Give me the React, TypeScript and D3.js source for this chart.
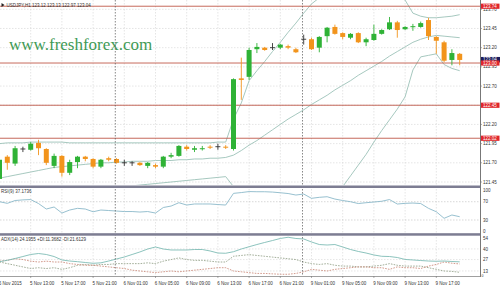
import React from "react";
import * as d3 from "d3";

const W = 500;
const H = 287;

// Hourly USDJPY candles, 5 Nov 09:00 .. 9 Nov 20:00
const open = [121.49,121.78,121.69,121.88,121.87,121.96,121.88,121.66,121.79,121.57,121.71,121.78,121.75,121.65,121.76,121.75,121.70,121.70,121.70,121.66,121.67,121.65,121.78,121.79,121.91,121.87,121.88,121.91,121.91,121.91,121.88,122.80,122.82,123.18,123.20,123.20,123.20,123.22,123.18,123.31,123.31,123.20,123.35,123.47,123.39,123.33,123.39,123.27,123.30,123.38,123.44,123.53,123.44,123.47,123.47,123.56,123.34,123.27,123.04,123.12];
const high = [121.76,121.80,121.92,121.91,121.97,122.00,121.89,121.82,121.80,121.74,121.79,121.79,121.76,121.75,121.78,121.76,121.74,121.72,121.71,121.71,121.69,121.79,121.83,121.93,121.93,121.92,121.92,121.93,121.95,121.93,122.80,123.07,123.20,123.26,123.21,123.26,123.25,123.24,123.20,123.37,123.33,123.35,123.47,123.50,123.40,123.39,123.40,123.33,123.50,123.44,123.60,123.55,123.48,123.51,123.54,123.59,123.35,123.29,123.18,123.13];
const low = [121.46,121.61,121.66,121.84,121.86,121.80,121.67,121.63,121.52,121.54,121.63,121.72,121.63,121.63,121.72,121.69,121.66,121.66,121.66,121.63,121.63,121.63,121.76,121.78,121.86,121.84,121.86,121.88,121.87,121.88,121.86,122.52,122.78,123.13,123.16,123.17,123.18,123.18,123.13,123.24,123.17,123.14,123.27,123.37,123.31,123.31,123.26,123.22,123.29,123.37,123.43,123.33,123.43,123.42,123.46,123.30,123.12,123.01,122.97,122.97];
const close = [121.74,121.70,121.89,121.88,121.95,121.89,121.70,121.79,121.57,121.71,121.78,121.75,121.65,121.74,121.74,121.70,121.70,121.70,121.67,121.70,121.65,121.78,121.80,121.92,121.88,121.89,121.89,121.90,121.91,121.90,122.79,122.78,123.17,123.21,123.17,123.20,123.24,123.20,123.14,123.31,123.18,123.34,123.46,123.38,123.34,123.38,123.27,123.31,123.38,123.43,123.53,123.43,123.47,123.48,123.52,123.35,123.29,123.03,123.13,123.04];

// Bollinger Bands (20, 2)
const bbUpper = [121.95,121.96,121.96,121.96,121.97,121.97,121.97,121.97,121.97,121.96,121.96,121.96,121.96,121.96,121.96,121.96,121.96,121.96,121.96,121.96,121.96,121.96,121.96,121.96,121.96,121.96,121.96,121.96,121.97,121.97,122.27,122.48,122.77,122.90,123.02,123.15,123.27,123.40,123.52,123.65,123.77,123.85,123.92,123.97,124.00,124.02,124.02,124.01,123.99,123.96,123.93,123.88,123.82,123.65,123.61,123.59,123.59,123.60,123.61,123.63];
const bbMiddle = [121.50,121.52,121.54,121.56,121.58,121.60,121.62,121.64,121.65,121.66,121.67,121.68,121.69,121.70,121.70,121.71,121.71,121.72,121.72,121.72,121.73,121.73,121.73,121.74,121.74,121.75,121.75,121.76,121.76,121.77,121.80,121.86,121.93,121.99,122.06,122.13,122.20,122.27,122.33,122.39,122.46,122.52,122.58,122.65,122.71,122.77,122.84,122.90,122.96,123.02,123.09,123.15,123.21,123.27,123.31,123.34,123.36,123.35,123.34,123.33];
const bbLower = [121.05,121.08,121.12,121.16,121.19,121.23,121.27,121.31,121.33,121.35,121.37,121.38,121.39,121.40,121.40,121.40,121.40,121.40,121.41,121.42,121.43,121.44,121.45,121.46,121.47,121.48,121.49,121.50,121.51,121.52,121.39,121.28,121.09,121.00,120.95,120.92,120.90,120.90,120.92,120.95,121.00,121.08,121.15,121.25,121.39,121.53,121.67,121.81,121.97,122.12,122.26,122.40,122.56,122.91,123.08,123.10,123.12,122.98,122.93,122.90];

// RSI(9)
const rsi = [70,66.4,72.6,74,74.7,66,54,58.4,45.2,51.8,55.5,54,48,51.8,50.7,49.6,48.5,48.5,47.4,48.5,45.2,57.3,60.5,67.8,62.7,65,65,65,63.8,62.7,88.3,90,92.2,91.8,91.8,91.1,89.6,87.9,84.6,86.8,77.4,79.6,80.9,75.8,72.6,70,66,67.8,69.3,71,74.7,64.9,66.4,67.1,66,55.5,48,33.7,40.9,37.17];

// ADX(14) with +DI / -DI
const adx = [24.4,26.1,28.3,30.7,33.2,34.4,33.2,30.7,26.5,25.2,24.4,23.4,22.4,23.0,25.2,27.7,30.1,33.2,36.3,39.9,42.4,39.9,38.7,38.7,38.7,39.3,39.3,37.5,35.0,34.7,36.6,39.9,42.7,45.4,47.9,50.3,52.8,54.3,52.8,52.2,48.5,45.4,44.8,45.4,42.4,39.3,36.9,35.0,32.6,31.0,30.7,29.5,27.1,26.5,25.8,25.2,24.9,25.2,24.6,24.2];
const plusDI = [24,22,20,18,16,17,16,17,15,17,20,21,20,21,21,22,22,22,22,23,22,25,27,29,27,26,26,25,24,24,31,32,33,32,31,30,29,28,27,24,22,21,22,20,19,19,18,18,19,20,22,20,19,19,19,17,15,13,12.5,11.37];
const minusDI = [25,26,28,27,25,24,25,24,24,22,21,20,20,19,18,17,16,14,13,12,11,12,13,12,13,14,15,16,17,17,13,12,11,10,10,9.5,9,9,10,12,15,14,13,15,16,17,18,18,17,17,15,18,17,17,16,19,21,24,22.5,21.61];

const timeTickIndex = [0,4,8,12,16,20,24,28,32,36,40,44,48,52,56];
const timeTickText = ["5 Nov 2015","5 Nov 13:00","5 Nov 17:00","5 Nov 21:00","6 Nov 01:00","6 Nov 05:00","6 Nov 09:00","6 Nov 13:00","6 Nov 17:00","6 Nov 21:00","9 Nov 01:00","9 Nov 05:00","9 Nov 09:00","9 Nov 13:00","9 Nov 17:00"];
const daySeparatorIndex = [15, 39];

const priceTicks = [123.70,123.45,123.20,122.95,122.70,122.45,122.20,121.95,121.70,121.45];
const levelPrices = [123.74,123.00,122.45,122.02];
const bidPrice = 123.04;
const rsiLevels = [70,30];
const rsiLabels = [100,70,30,0];
const adxLabels = [54,40,27,13,0];

const title = "USDJPY,H1  123.12 123.13 122.97 123.04";
const rsiTitle = "RSI(9) 37.1736";
const adxTitle = "ADX(14) 24.1955 +DI:11.3682 -DI:21.6129";

const PLOT_R = 480;
const MAIN = { top: 0, bottom: 185 };
const RSIP = { top: 188, bottom: 233 };
const ADXP = { top: 236, bottom: 276 };

const FONT = "'Liberation Sans', Arial, sans-serif";
const GREEN = "#2fb236";
const ORANGE = "#f2941c";
const BAND = "#9cc2b8";
const LEVEL = "#c0584a";
const GRID = "#d4d4d4";
const SEP = "#7d7d92";

export default function App() {
  const n = close.length;
  const x = d3.scaleLinear().domain([0, n - 1]).range([-0.5, -0.5 + (n - 1) * 7.8]);
  const y = d3.scaleLinear().domain([121.45, 123.70]).range([182, 9.3]);
  const yR = d3.scaleLinear().domain([0, 100]).range([233.7, 188]);
  const yA = d3.scaleLinear().domain([0, 54]).range([281.6, 237.5]);

  const lineMain = (arr: number[]) =>
    d3.line<number>().x((_, i) => x(i)).y((d) => y(d))(arr) || "";
  const lineR = d3.line<number>().x((_, i) => x(i)).y((d) => yR(d));
  const lineA = d3.line<number>().x((_, i) => x(i)).y((d) => yA(d));

  const bodyW = 5;
  const clampC = (v: number, lo: number, hi: number) => Math.max(lo, Math.min(hi, v));

  return (
    <svg width={W} height={H} style={{ position: "absolute", left: 0, top: 0, background: "#fff" }} fontFamily={FONT}>
      <defs>
        <clipPath id="cMain"><rect x={0} y={MAIN.top} width={PLOT_R} height={MAIN.bottom - MAIN.top} /></clipPath>
        <clipPath id="cRsi"><rect x={0} y={RSIP.top} width={PLOT_R} height={RSIP.bottom - RSIP.top} /></clipPath>
        <clipPath id="cAdx"><rect x={0} y={ADXP.top} width={PLOT_R} height={ADXP.bottom - ADXP.top} /></clipPath>
      </defs>
      <rect x={0} y={0} width={W} height={H} fill="#fff" />

      {/* grid */}
      <g stroke={GRID} strokeWidth={0.6} strokeDasharray="1.5,1.5">
        {timeTickIndex.map((ti) => (
          <line key={"vg" + ti} x1={x(ti)} x2={x(ti)} y1={0} y2={ADXP.bottom} />
        ))}
        {priceTicks.map((p) => (
          <line key={"hg" + p} x1={0} x2={PLOT_R} y1={y(p)} y2={y(p)} />
        ))}
        {rsiLevels.map((v) => (
          <line key={"rl" + v} x1={0} x2={PLOT_R} y1={yR(v)} y2={yR(v)} stroke="#bdbdbd" />
        ))}
        {[40, 27, 13].map((v) => (
          <line key={"al" + v} x1={0} x2={PLOT_R} y1={yA(v)} y2={yA(v)} />
        ))}
      </g>

      {/* watermark */}
      <text x={9} y={49.5} fontFamily="'Liberation Serif', 'Times New Roman', serif" fontSize={17} fill="#3f9a55">www.freshforex.com</text>

      {/* main panel */}
      <g clipPath="url(#cMain)">
        {[bbUpper, bbMiddle, bbLower].map((arr, k) => (
          <path key={"bb" + k} d={lineMain(arr)} fill="none" stroke={BAND} strokeWidth={0.9} />
        ))}
        {levelPrices.map((p) => (
          <line key={"lv" + p} x1={0} x2={PLOT_R} y1={y(p)} y2={y(p)} stroke={LEVEL} strokeWidth={0.9} />
        ))}
        {close.map((c, i) => {
          const o = open[i];
          const doji = Math.abs(c - o) < 0.005;
          const col = doji ? "#333" : c > o ? GREEN : ORANGE;
          const top = y(Math.max(o, c));
          const bot = y(Math.min(o, c));
          return (
            <g key={"c" + i}>
              <line x1={x(i)} x2={x(i)} y1={y(high[i])} y2={y(low[i])} stroke={col} strokeWidth={0.9} />
              {doji ? (
                <line x1={x(i) - bodyW / 2} x2={x(i) + bodyW / 2} y1={top} y2={top} stroke={col} strokeWidth={0.9} />
              ) : (
                <rect x={x(i) - bodyW / 2} y={top} width={bodyW} height={Math.max(1, bot - top)} fill={col} />
              )}
            </g>
          );
        })}
      </g>

      {/* RSI */}
      <g clipPath="url(#cRsi)">
        <path d={lineR(rsi) || ""} fill="none" stroke="#8bb9c9" strokeWidth={0.9} />
      </g>

      {/* ADX */}
      <g clipPath="url(#cAdx)">
        <path d={lineA(plusDI) || ""} fill="none" stroke="#8b9b80" strokeWidth={0.8} strokeDasharray="1.6,1.2" />
        <path d={lineA(minusDI) || ""} fill="none" stroke="#c7806f" strokeWidth={0.8} strokeDasharray="1.6,1.2" />
        <path d={lineA(adx) || ""} fill="none" stroke="#7fbcb6" strokeWidth={0.9} />
      </g>

      {/* day separators */}
      <g stroke="#555" strokeWidth={0.7} strokeDasharray="1.5,1.5">
        {daySeparatorIndex.map((di) => (
          <line key={"ds" + di} x1={x(di) - 1.2} x2={x(di) - 1.2} y1={0} y2={ADXP.bottom} />
        ))}
      </g>

      {/* panel separators */}
      <rect x={0} y={185.5} width={PLOT_R + 1} height={2.5} fill={SEP} />
      <rect x={0} y={233.2} width={PLOT_R + 1} height={2.5} fill={SEP} />
      <line x1={0} x2={PLOT_R} y1={ADXP.bottom + 0.5} y2={ADXP.bottom + 0.5} stroke="#888" strokeWidth={0.8} />
      <line x1={PLOT_R + 0.5} x2={PLOT_R + 0.5} y1={0} y2={ADXP.bottom + 1} stroke="#777" strokeWidth={1} />

      {/* price axis */}
      <g fontSize={4.5} fill="#333">
        {priceTicks.map((p) => (
          <g key={"pt" + p}>
            <line x1={PLOT_R} x2={PLOT_R + 2} y1={y(p)} y2={y(p)} stroke="#777" strokeWidth={0.6} />
            <text x={483} y={y(p) + 1.6}>{p.toFixed(2)}</text>
          </g>
        ))}
      </g>
      <rect x={481} y={y(bidPrice) - 3} width={19} height={5.5} fill="#1c1c5c" />
      <text x={483} y={y(bidPrice) + 1.4} fontSize={4.5} fill="#fff">{bidPrice.toFixed(2)}</text>
      {levelPrices.map((p) => (
        <g key={"lb" + p}>
          <rect x={481} y={y(p) - 2.6} width={18.5} height={5.2} fill="#e0262a" />
          <text x={483} y={y(p) + 1.6} fontSize={4.5} fill="#fff">{p.toFixed(2)}</text>
        </g>
      ))}

      {/* RSI / ADX axis */}
      <g fontSize={4.5} fill="#333">
        {rsiLabels.map((v) => (
          <text key={"rlb" + v} x={483} y={clampC(yR(v), RSIP.top + 2.5, RSIP.bottom - 2) + 1.6}>{v}</text>
        ))}
        {adxLabels.map((v) => (
          <text key={"alb" + v} x={v === 0 ? 481.5 : 483} y={clampC(yA(v), ADXP.top + 2, ADXP.bottom - 1) + 1.6} fontSize={v === 0 ? 3.5 : 4.5}>{v}</text>
        ))}
      </g>

      {/* titles */}
      <path d="M1.5,3 L4.5,5 L1.5,7 Z" fill="#222" />
      <text x={6.5} y={6.5} fontSize={4.5} fill="#333">{title}</text>
      <text x={1} y={192.5} fontSize={4.5} fill="#333">{rsiTitle}</text>
      <text x={1} y={240.5} fontSize={4.5} fill="#333">{adxTitle}</text>

      {/* time axis */}
      <g fontSize={4.5} fill="#333">
        {timeTickIndex.map((ti, k) => (
          <g key={"tt" + ti}>
            <line x1={x(ti)} x2={x(ti)} y1={ADXP.bottom} y2={ADXP.bottom + 2} stroke="#777" strokeWidth={0.6} />
            <text x={x(ti) - 0.7} y={284.5}>{timeTickText[k]}</text>
          </g>
        ))}
      </g>
    </svg>
  );
}
